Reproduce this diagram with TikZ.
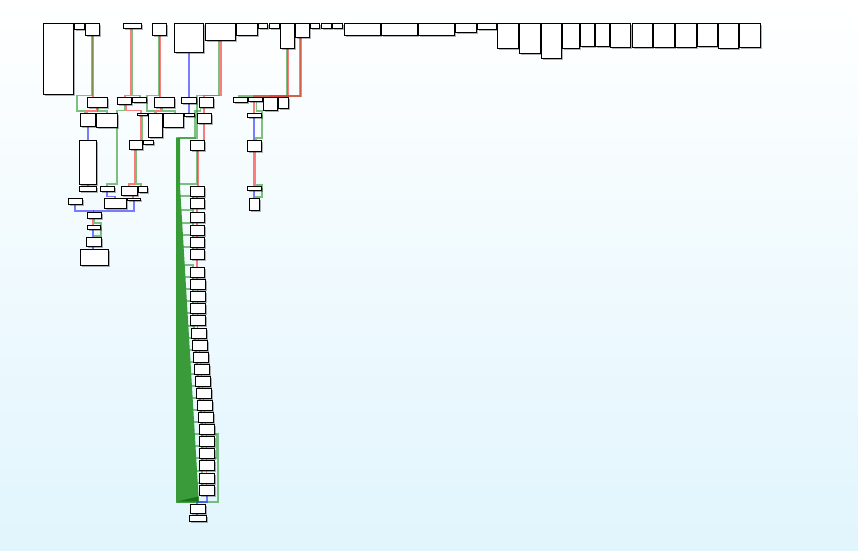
\documentclass[tikz,border=0pt]{standalone}
\usetikzlibrary{shadows}
\pgfdeclarelayer{bgl}
\pgfdeclarelayer{edges}
\pgfsetlayers{bgl,edges,main}
\definecolor{eg}{RGB}{50,155,50}
\definecolor{er}{RGB}{255,45,45}
\definecolor{eb}{RGB}{45,45,255}
\definecolor{bandc}{RGB}{58,155,58}
\definecolor{bandd}{RGB}{20,115,20}
\definecolor{bgb}{RGB}{225,245,253}
\tikzset{
 bx/.style={draw=black, line width=1pt, fill=white, inner sep=0pt, outer sep=0pt, anchor=north west,
   drop shadow={shadow xshift=2pt, shadow yshift=-2pt, opacity=0.3, fill=black}},
 eG/.style={draw=eg, line width=1.8pt, draw opacity=0.62},
 eR/.style={draw=er, line width=1.8pt, draw opacity=0.62},
 eB/.style={draw=eb, line width=1.8pt, draw opacity=0.62},
}
\newcommand\bx[5]{\node[bx, minimum width=#4pt, minimum height=#5pt] (#1) at (#2,#3) {};}
\begin{document}
\begin{tikzpicture}[x=1pt,y=-1pt]
\useasboundingbox (0,0) rectangle (858,550);
\begin{pgfonlayer}{bgl}
\shade[top color=white, bottom color=bgb] (0,0) rectangle (858,550);
\end{pgfonlayer}
% top row
\bx{A}{43}{23}{30}{71}
\bx{B}{74}{23}{10}{6}
\bx{C}{85}{23}{14}{12}
\bx{D}{123}{23}{18}{5}
\bx{E}{152}{23}{14}{12}
\bx{F}{174}{23}{29}{29}
\bx{G}{205}{23}{30}{17}
\bx{H}{236}{23}{21}{12}
\bx{I}{258}{23}{9}{5}
\bx{J}{269}{23}{10}{5}
\bx{K}{280}{23}{14}{25}
\bx{L}{295}{23}{14}{14}
\bx{M}{310}{23}{9}{5}
\bx{N}{321}{23}{10}{5}
\bx{O}{332}{23}{10}{5}
\bx{P}{344}{23}{36}{12}
\bx{Q}{381}{23}{36}{12}
\bx{R}{418}{23}{36}{12}
\bx{S}{455}{23}{21}{9}
\bx{T}{477}{23}{19}{6}
\bx{U}{497}{23}{21}{25}
\bx{V}{519}{23}{21}{30}
\bx{W}{541}{23}{20}{35}
\bx{X}{562}{23}{17}{25}
\bx{Y}{580}{23}{14}{23}
\bx{Z}{595}{23}{14}{23}
\bx{AA}{610}{23}{20}{24}
\bx{AB}{632}{23}{20}{24}
\bx{AC}{653}{23}{21}{24}
\bx{AD}{675}{23}{21}{24}
\bx{AE}{697}{23}{20}{23}
\bx{AF}{718}{23}{20}{25}
\bx{AG}{739}{23}{21}{24}
% row 2
\bx{r2a}{87}{97}{20}{10}
\bx{r2b}{117}{97}{14}{7}
\bx{r2c}{132}{97}{14}{5}
\bx{r2d}{154}{97}{20}{10}
\bx{r2e}{181}{97}{15}{6}
\bx{r2f}{199}{97}{14}{10}
\bx{r2g}{233}{97}{14}{5}
\bx{r2h}{248}{97}{14}{4}
\bx{r2i}{263}{97}{14}{13}
\bx{r2j}{278}{97}{10}{11}
% row 3
\bx{r3a}{80}{113}{15}{13}
\bx{r3b}{96}{113}{21}{14}
\bx{r3c}{137}{113}{10}{2}
\bx{r3d}{148}{113}{14}{24}
\bx{r3e}{163}{113}{20}{14}
\bx{r3f}{184}{113}{10}{3}
\bx{r3g}{197}{113}{14}{10}
\bx{r3h}{247}{113}{14}{4}
% row 4
\bx{r4a}{79}{140}{17}{44}
\bx{r4b}{129}{140}{13}{9}
\bx{r4c}{143}{140}{10}{4}
\bx{r4d}{190}{140}{14}{10}
\bx{r4e}{247}{140}{14}{11}
% row 5
\bx{r5a}{79}{186}{17}{5}
\bx{r5b}{100}{186}{14}{5}
\bx{r5c}{121}{186}{16}{9}
\bx{r5d}{138}{186}{9}{6}
\bx{r5e}{247}{186}{14}{4}
% row 6 and below
\bx{r6a}{68}{198}{14}{6}
\bx{r6b}{104}{198}{22}{10}
\bx{r6c}{127}{198}{13}{2}
\bx{r6e}{249}{198}{10}{12}
\bx{r7a}{87}{212}{14}{6}
\bx{r8a}{87}{225}{13}{4}
\bx{r9a}{86}{237}{15}{9}
\bx{r10a}{80}{249}{28}{16}
% chain
\foreach \n/\x/\y/\w in {1/190/186/14, 2/190/198/14, 3/190/212/14, 4/190/225/14, 5/190/237/14,
  6/190/249/14, 7/190/267/14, 8/190/279/15, 9/190/291/15, 10/190/303/15, 11/190/315/15,
  12/191/328/15, 13/192/340/15, 14/193/352/15, 15/194/364/15, 16/195/376/15, 17/196/388/15,
  18/197/400/15, 19/198/412/15, 20/199/424/15, 21/199/436/15, 22/199/448/15, 23/199/460/15,
  24/199/473/15, 25/199/485/15}
  {\bx{c\n}{\x}{\y}{\w}{10}}
\bx{c26}{190}{504}{15}{9}
\bx{c27}{189}{515}{17}{6}

\begin{pgfonlayer}{edges}
% green band
\fill[bandc] (176,138) -- (180,138) -- (180,186) -- (198.5,496) -- (198.5,501.7) -- (176,501.7) -- cycle;
\fill[bandd] (176,501.7) -- (198.5,496.5) -- (198.5,502.5) -- (176,502.5) -- cycle;
% C group
\draw[eR] (93,0 |- C.south) -- (93,0 |- r2a.north);
\draw[eG] (92,0 |- C.south) -- (92,95.5) -- (77,95.5) -- (77,110.7) -- (85,110.7) -- (85,0 |- r3a.north);
\draw[eR] (97,0 |- r2a.south) -- (97,110.7) -- (87,110.7) -- (87,0 |- r3a.north);
\draw[eG] (98,0 |- r2a.south) -- (98,110.7) -- (107,110.7) -- (107,0 |- r3b.north);
\draw[eB] (88,0 |- r3a.south) -- (88,0 |- r4a.north);
\draw[eB] (88,0 |- r4a.south) -- (88,0 |- r5a.north);
% D group
\draw[eR] (130.5,0 |- D.south) -- (130.5,95.5) -- (125,95.5) -- (125,0 |- r2b.north);
\draw[eG] (132,0 |- D.south) -- (132,95.5) -- (140,95.5) -- (140,0 |- r2c.north);
\draw[eG] (125,0 |- r2b.south) -- (125,110.5) -- (117.3,110.5) -- (117.3,184) -- (107,184) -- (107,0 |- r5b.north);
\draw[eR] (126.5,0 |- r2b.south) -- (126.5,110.5) -- (141,110.5) -- (141,0 |- r4b.north);
\draw[eG] (142.5,0 |- r3c.south) -- (142.5,0 |- r4b.north);
\draw[eR] (135,0 |- r4b.south) -- (135,184) -- (129,184) -- (129,0 |- r5c.north);
\draw[eG] (136.5,0 |- r4b.south) -- (136.5,184) -- (141,184) -- (141,0 |- r5d.north);
\draw[eB] (107,0 |- r5b.south) -- (107,196.5) -- (115,196.5) -- (115,0 |- r6b.north);
\draw[eR] (133,0 |- r5c.south) -- (133,0 |- r6c.north);
\draw[eB] (75,0 |- r6a.south) -- (75,210.7) -- (93.3,210.7) -- (93.3,0 |- r7a.north);
\draw[eB] (134,0 |- r6c.south) -- (134,210.7) -- (93.3,210.7);
\draw[eR] (93.3,0 |- r7a.south) -- (93.3,0 |- r8a.north);
\draw[eG] (94.5,0 |- r7a.south) -- (94.5,223.3) -- (100.7,223.3) -- (100.7,235.7) -- (94.5,235.7) -- (94.5,0 |- r9a.north);
\draw[eB] (93.3,0 |- r8a.south) -- (93.3,0 |- r9a.north);
\draw[eB] (93.3,0 |- r9a.south) -- (93.3,0 |- r10a.north);
% E group
\draw[eR] (160.3,0 |- E.south) -- (160.3,0 |- r2d.north);
\draw[eG] (159.3,0 |- E.south) -- (159.3,95.5) -- (146.7,95.5) -- (146.7,110.7) -- (155,110.7) -- (155,0 |- r3d.north);
\draw[eR] (160.5,0 |- r2d.south) -- (160.5,110.7) -- (156.5,110.7) -- (156.5,0 |- r3d.north);
\draw[eG] (162,0 |- r2d.south) -- (162,110.7) -- (175,110.7) -- (175,0 |- r3e.north);
% F group
\draw[eB] (189,0 |- F.south) -- (189,0 |- r2e.north);
\draw[eB] (189,0 |- r2e.south) -- (189,0 |- r3f.north);
% G group
\draw[eR] (220.7,0 |- G.south) -- (220.7,95.5) -- (204.3,95.5) -- (204.3,0 |- r2f.north);
\draw[eR] (204.3,0 |- r2f.south) -- (204.3,0 |- r3g.north);
\draw[eR] (204.3,0 |- r3g.south) -- (204.3,0 |- r4d.north);
\draw[eG] (219.3,0 |- G.south) -- (219.3,95.5) -- (196.7,95.5) -- (196.7,138.3) -- (177,138.3) -- (177,501.7);
\draw[eG] (200.5,0 |- r2f.south) -- (200.5,110.7) -- (195.3,110.7) -- (195.3,138.3) -- (177.5,138.3);
\draw[eR] (198.3,0 |- r4d.south) -- (198.3,0 |- c1.north);
\draw[eG] (196.7,0 |- r4d.south) -- (196.7,184) -- (179,184) -- (179,138.3);
% chain
\foreach \i [evaluate=\i as \j using int(\i+1)] in {1,...,24}
  {\draw[eR] (c\i.south) -- (c\i.south |- c\j.north);}
\foreach \n/\x/\y in {2/190/198, 3/190/212, 4/190/225, 5/190/237, 6/190/249, 7/190/267,
  8/190/279, 9/190/291, 10/190/303, 11/190/315, 12/191/328, 13/192/340, 14/193/352,
  15/194/364, 16/195/376, 17/196/388, 18/197/400, 19/198/412, 20/199/424, 21/199/436,
  22/199/448, 23/199/460, 24/199/473, 25/199/485}
  {\pgfmathsetmacro\rr{179.5+(\y-186)*0.06}
   \draw[eG] (\rr,\y-2) -- (\x+3,\y-2) -- (\x+3,0 |- c\n.north);}
\draw[eG] (c20.south east) -- (218.3,0 |- c20.south east) -- (218.3,501.7) -- (177,501.7);
\draw[eG] (c22.south east) -- (216.4,0 |- c22.south east) -- (216.4,0 |- c20.south east);
\draw[eB] (206.7,0 |- c25.south) -- (206.7,501.7) -- (197.3,501.7) -- (197.3,0 |- c26.north);
\draw[eB] (197.3,0 |- c26.south) -- (197.3,0 |- c27.north);
% K / L group
\draw[eG] (301,0 |- L.south) -- (301,95.7) -- (239.3,95.7) -- (239.3,0 |- r2g.north);
\draw[eR] (300,0 |- L.south) -- (300,95.7) -- (270,95.7) -- (270,0 |- r2i.north);
\draw[eR] (288.3,0 |- K.south) -- (288.3,95.7) -- (254,95.7) -- (254,0 |- r3h.north);
\draw[eG] (286.7,0 |- K.south) -- (286.7,0 |- r2j.north);
\draw[eG] (256.5,0 |- r2h.south) -- (256.5,110.7) -- (261.7,110.7) -- (261.7,138.3) -- (256,138.3) -- (256,0 |- r4e.north);
\draw[eB] (254,0 |- r3h.south) -- (254,0 |- r4e.north);
\draw[eR] (254,0 |- r4e.south) -- (254,0 |- r5e.north);
\draw[eG] (255.5,0 |- r4e.south) -- (255.5,184.7) -- (261.7,184.7) -- (261.7,196.7) -- (255.5,196.7) -- (255.5,0 |- r6e.north);
\draw[eB] (254,0 |- r5e.south) -- (254,0 |- r6e.north);
\end{pgfonlayer}
\end{tikzpicture}
\end{document}
